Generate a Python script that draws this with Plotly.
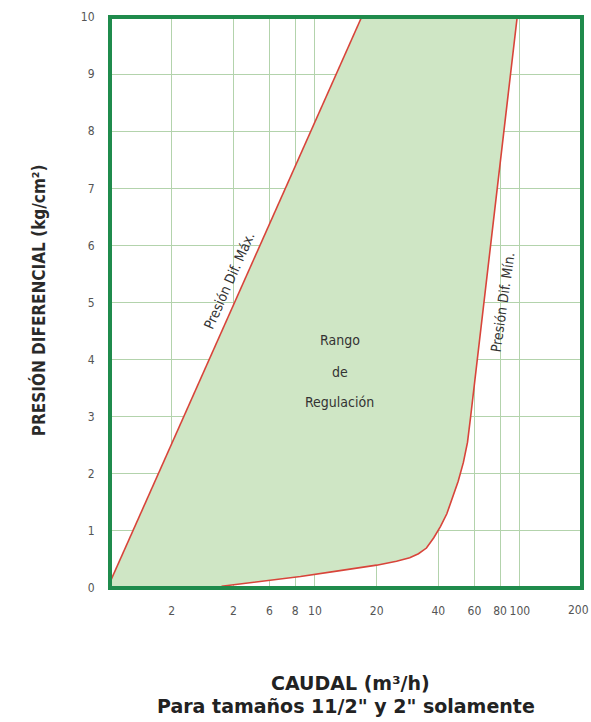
import plotly.graph_objects as go

# ---- data ----
max_x = [1.0, 16.9]
max_y = [0.1, 10.0]

min_x = [3.5, 5.5, 8.5, 13, 20, 25, 29, 32, 35, 38, 41, 44, 47, 50, 53, 55.5, 57.5, 60.6, 97]
min_y = [0.03, 0.12, 0.2, 0.3, 0.4, 0.47, 0.53, 0.6, 0.7, 0.88, 1.08, 1.3, 1.58, 1.87, 2.2, 2.55, 3.0, 3.7, 10.0]

x_tickvals = [2, 4, 6, 8, 10, 20, 40, 60, 80, 100]
x_ticktext = ["2", "2", "6", "8", "10", "20", "40", "60", "80", "100"]
x_edge_val = 200
x_edge_text = "200"
y_tickvals = list(range(0, 11))

FILL = "#cfe6c5"
RED = "#d8443a"
FRAME = "#1f8b4c"
GRID = "#b3d3ac"
NARROW = "DejaVu Sans Condensed, Liberation Sans Narrow, Liberation Sans, sans-serif"
WIDE = "DejaVu Sans, Liberation Sans, sans-serif"

fig = go.Figure()

poly_x = [1.0] + max_x + min_x[::-1] + [1.0]
poly_y = [0.0] + max_y + min_y[::-1] + [0.0]
fig.add_trace(go.Scatter(x=poly_x, y=poly_y, fill="toself", fillcolor=FILL,
                         line=dict(width=0), mode="lines", hoverinfo="skip",
                         showlegend=False))
fig.add_trace(go.Scatter(x=max_x, y=max_y, mode="lines",
                         line=dict(color=RED, width=1.6), showlegend=False))
fig.add_trace(go.Scatter(x=min_x, y=min_y, mode="lines",
                         line=dict(color=RED, width=1.6), showlegend=False))

fig.update_layout(
    width=591, height=722,
    margin=dict(l=110, r=9, t=17, b=134),
    paper_bgcolor="white", plot_bgcolor="white",
    xaxis=dict(type="log", range=[0, 2.303], tickvals=x_tickvals, ticktext=x_ticktext,
               showgrid=True, gridcolor=GRID, gridwidth=1.2, zeroline=False,
               ticks="outside", ticklen=12, tickcolor="rgba(0,0,0,0)",
               tickfont=dict(family=NARROW, size=12, color="#555555"),
               layer="below traces"),
    yaxis=dict(range=[0, 10], tickvals=y_tickvals,
               showgrid=True, gridcolor=GRID, gridwidth=1.2, zeroline=False,
               ticks="outside", ticklen=12, tickcolor="rgba(0,0,0,0)",
               tickfont=dict(family=NARROW, size=12, color="#555555"),
               layer="below traces"),
    font=dict(family="Liberation Sans, Arial, sans-serif"),
)

fig.add_shape(type="rect", xref="paper", yref="paper", x0=0, y0=0, x1=1, y1=1,
              line=dict(color=FRAME, width=4), layer="above")

# edge tick label (would otherwise be hidden past the page edge)
fig.add_annotation(x=2.30103, y=0, xref="x", yref="paper", xanchor="right",
                   xshift=9, yanchor="middle", yshift=-22, text=x_edge_text,
                   showarrow=False, font=dict(family=NARROW, size=12, color="#555555"))

ann_font = dict(family=NARROW, size=14, color="#333333")
fig.add_annotation(x=0.58, y=5.38, xref="x", yref="y", text="Presión Dif. Máx.",
                   textangle=-66, showarrow=False, font=ann_font)
fig.add_annotation(x=1.913, y=5.0, xref="x", yref="y", text="Presión Dif. Mín.",
                   textangle=-82, showarrow=False, font=ann_font)
fig.add_annotation(x=1.122, y=4.34, xref="x", yref="y", text="Rango",
                   showarrow=False, font=ann_font)
fig.add_annotation(x=1.122, y=3.78, xref="x", yref="y", text="de",
                   showarrow=False, font=ann_font)
fig.add_annotation(x=1.122, y=3.26, xref="x", yref="y", text="Regulación",
                   showarrow=False, font=ann_font)

fig.add_annotation(x=0, y=0.504, xref="paper", yref="paper", xshift=-72,
                   xanchor="center", yanchor="middle",
                   text="<b>PRESIÓN DIFERENCIAL (kg/cm²)</b>", textangle=-90,
                   showarrow=False, font=dict(family=NARROW, size=17, color="#2a2a2a"))
fig.add_annotation(x=0.5, y=0, xref="paper", yref="paper", yshift=-95, xshift=4,
                   yanchor="middle",
                   text="<b>CAUDAL (m³/h)</b>", showarrow=False,
                   font=dict(family=WIDE, size=19, color="#222222"))
fig.add_annotation(x=0.5, y=0, xref="paper", yref="paper", yshift=-118, xshift=0,
                   yanchor="middle",
                   text="<b>Para tamaños 11/2\" y 2\" solamente</b>", showarrow=False,
                   font=dict(family=WIDE, size=19, color="#222222"))

fig.write_html("out.html", config={"displayModeBar": False})

# remove the default page margin so the figure sits at the window's origin
with open("out.html", "r", encoding="utf-8") as f:
    html = f.read()
html = html.replace("<head>", "<head><style>html,body{margin:0;padding:0;overflow:hidden}</style>", 1)
with open("out.html", "w", encoding="utf-8") as f:
    f.write(html)
